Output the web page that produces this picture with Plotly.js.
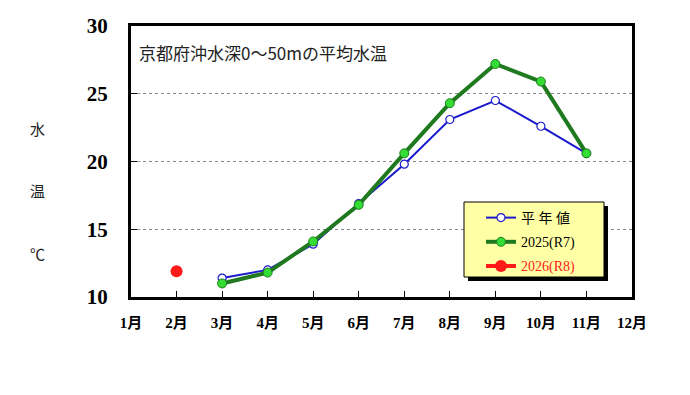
<!DOCTYPE html>
<html>
<head>
<meta charset="utf-8">
<script src="https://cdn.plot.ly/plotly-3.0.1.min.js"></script>
<style>html,body{margin:0;padding:0;background:#fff;}#chart{width:690px;height:395px;}</style>
</head>
<body>
<div id="chart"></div>
<script>
const monthLabels = ['1月','2月','3月','4月','5月','6月','7月','8月','9月','10月','11月','12月'];
const normalMonths = ['3月','4月','5月','6月','7月','8月','9月','10月','11月'];
const normalValues = [11.4, 12.0, 13.9, 16.9, 19.8, 23.1, 24.5, 22.6, 20.6];
const y2025Months = ['3月','4月','5月','6月','7月','8月','9月','10月','11月'];
const y2025Values = [11.0, 11.8, 14.1, 16.8, 20.6, 24.3, 27.2, 25.9, 20.6];
const y2026Months = ['2月'];
const y2026Values = [11.9];
const seriesNames = ['平 年 値', '2025(R7)', '<span style="color:#FF2020">2026(R8)</span>'];
const yTicks = [10, 15, 20, 25, 30];

const serifFont = '"Liberation Serif", "Times New Roman", "Noto Sans CJK JP", serif';
const cjkFont = '"Noto Sans CJK JP", sans-serif';

const traces = [
  {
    x: normalMonths, y: normalValues, name: seriesNames[0], legendgroup: 'a',
    type: 'scatter', mode: 'lines+markers',
    line: {color: '#1a1acc', width: 2},
    marker: {symbol: 'circle', size: 8, color: '#ffffff', line: {color: '#1a1acc', width: 1.2}}
  },
  {
    x: y2025Months, y: y2025Values, name: seriesNames[1], legendgroup: 'b',
    type: 'scatter', mode: 'lines+markers',
    line: {color: '#1f7a1f', width: 4},
    marker: {symbol: 'circle', size: 9, color: '#33dd33', line: {color: '#1f7a1f', width: 1}}
  },
  {
    x: y2026Months, y: y2026Values, name: seriesNames[2], legendgroup: 'c',
    type: 'scatter', mode: 'lines+markers',
    line: {color: '#ff1a1a', width: 4},
    marker: {symbol: 'circle', size: 12, color: '#ff1a1a', line: {color: '#ff1a1a', width: 0}}
  }
];

const L = 131, R = 632, T = 26, B = 297;
const pw = R - L, ph = B - T;
const px = v => (v - L) / pw;
const py = v => (B - v) / ph;

const layout = {
  width: 690, height: 395,
  margin: {l: L, r: 690 - R, t: T, b: 395 - B, pad: 0},
  paper_bgcolor: '#ffffff', plot_bgcolor: '#ffffff',
  showlegend: true,
  legend: {
    x: px(481), y: py(202), xanchor: 'left', yanchor: 'top',
    bgcolor: 'rgba(0,0,0,0)', borderwidth: 0,
    traceorder: 'grouped', tracegroupgap: 3, itemwidth: 30,
    font: {family: serifFont, size: 14, color: '#000'}
  },
  xaxis: {
    type: 'category', categoryorder: 'array', categoryarray: monthLabels,
    range: [0, 11], fixedrange: true,
    tickvals: monthLabels, ticktext: monthLabels,
    ticks: 'inside', ticklen: 6, tickwidth: 1, tickcolor: '#000',
    showline: true, linecolor: '#000', linewidth: 3, mirror: true,
    showgrid: false, zeroline: false,
    tickfont: {family: serifFont, size: 15, color: '#000', weight: 'bold'},
    ticklabelstandoff: 10
  },
  yaxis: {
    range: [10, 30], tickvals: yTicks, ticktext: yTicks.map(String),
    ticks: 'inside', ticklen: 6, tickwidth: 1, tickcolor: '#000',
    showline: true, linecolor: '#000', linewidth: 3, mirror: true,
    showgrid: true, gridcolor: '#888', griddash: 'dot', gridwidth: 1,
    zeroline: false,
    tickfont: {family: serifFont, size: 21, color: '#000', weight: 'bold'},
    ticklabelstandoff: 16
  },
  shapes: [
    {type: 'rect', xref: 'paper', yref: 'paper', layer: 'above',
     x0: px(468), x1: px(608), y0: py(206), y1: py(281),
     fillcolor: '#000', line: {width: 0}},
    {type: 'rect', xref: 'paper', yref: 'paper', layer: 'above',
     x0: px(464), x1: px(604), y0: py(202), y1: py(277),
     fillcolor: '#ffffa6', line: {color: '#000', width: 1}}
  ],
  annotations: [
    {text: '京都府沖水深0～50mの平均水温', xref: 'paper', yref: 'paper',
     x: px(137), y: py(52), xanchor: 'left', yanchor: 'middle', showarrow: false,
     font: {family: cjkFont, size: 17, color: '#222'}},
    {text: '水', xref: 'paper', yref: 'paper', x: px(37), y: py(128),
     xanchor: 'center', yanchor: 'middle', showarrow: false,
     font: {family: cjkFont, size: 15, color: '#222'}},
    {text: '温', xref: 'paper', yref: 'paper', x: px(37), y: py(190),
     xanchor: 'center', yanchor: 'middle', showarrow: false,
     font: {family: cjkFont, size: 15, color: '#222'}},
    {text: '℃', xref: 'paper', yref: 'paper', x: px(37), y: py(253),
     xanchor: 'center', yanchor: 'middle', showarrow: false,
     font: {family: cjkFont, size: 15, color: '#222'}}
  ]
};

Plotly.newPlot('chart', traces, layout, {displayModeBar: false, staticPlot: true});
</script>
</body>
</html>
